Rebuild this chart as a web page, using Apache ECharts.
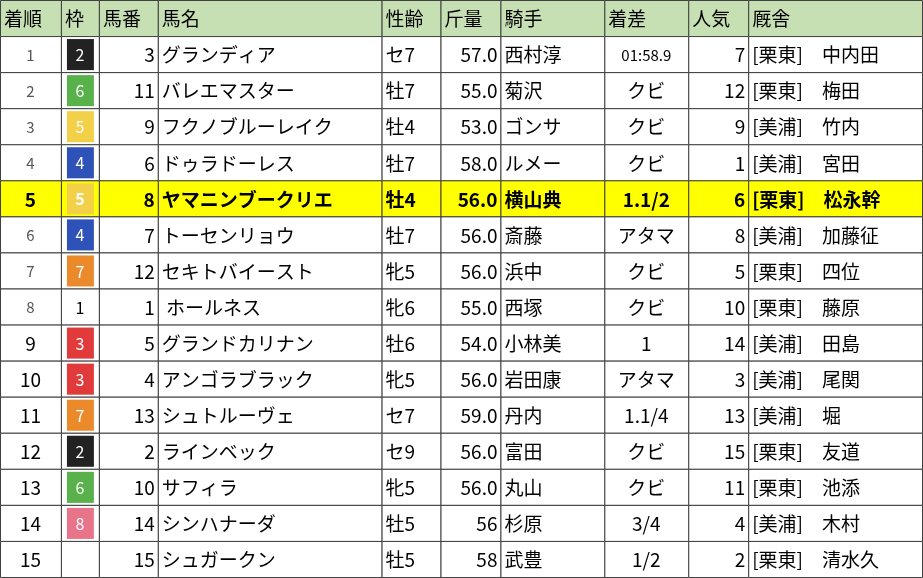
<!DOCTYPE html>
<html><head><meta charset="utf-8">
<script src="https://cdn.jsdelivr.net/npm/echarts@6/dist/echarts.min.js"></script>
<style>html,body{margin:0;padding:0;background:#fff}#c{width:923px;height:578px}</style>
</head><body><div id="c"></div>
<script>
const headers = ['着順','枠','馬番','馬名','性齢','斤量','騎手','着差','人気','厩舎'];
const ranks = [1,2,3,4,5,6,7,8,9,10,11,12,13,14,15];
const waku = [2,6,5,4,5,4,7,1,3,3,7,2,6,8,null];
const umaban = [3,11,9,6,8,7,12,1,5,4,13,2,10,14,15];
const names = ['グランディア','バレエマスター','フクノブルーレイク','ドゥラドーレス','ヤマニンブークリエ','トーセンリョウ','セキトバイースト',' ホールネス','グランドカリナン','アンゴラブラック','シュトルーヴェ','ラインベック','サフィラ','シンハナーダ','シュガークン'];
const sexAge = ['セ7','牡7','牡4','牡7','牡4','牡7','牝5','牝6','牡6','牝5','セ7','セ9','牝5','牡5','牡5'];
const weights = ['57.0','55.0','53.0','58.0','56.0','56.0','56.0','55.0','54.0','56.0','59.0','56.0','56.0','56','58'];
const jockeys = ['西村淳','菊沢','ゴンサ','ルメー','横山典','斎藤','浜中','西塚','小林美','岩田康','丹内','富田','丸山','杉原','武豊'];
const margins = ['01:58.9','クビ','クビ','クビ','1.1/2','アタマ','クビ','クビ','1','アタマ','1.1/4','クビ','クビ','3/4','1/2'];
const popularity = [7,12,9,1,6,8,5,10,14,3,13,15,11,4,2];
const stables = ['[栗東]　中内田','[栗東]　梅田','[美浦]　竹内','[美浦]　宮田','[栗東]　松永幹','[美浦]　加藤征','[栗東]　四位','[栗東]　藤原','[美浦]　田島','[美浦]　尾関','[美浦]　堀','[栗東]　友道','[栗東]　池添','[美浦]　木村','[栗東]　清水久'];
const highlightRow = 4;

const colEdges = [0,61,99,158,382,441,501,605,689,749,923];
const colAlign = ['center','center','right','left','left','right','left','center','right','left'];
const wakuColors = {1:'#ffffff',2:'#222222',3:'#e03a3a',4:'#2f52b8',5:'#f2d048',6:'#58b14a',7:'#ea8a2a',8:'#e8748a'};
const wakuText = {1:'#000',2:'#fff',3:'#fff',4:'#fff',5:'#fff',6:'#fff',7:'#fff',8:'#fff'};

const rowsLabels = ['h'].concat(ranks.map(String));
const table = [headers];
for (let i=0;i<ranks.length;i++) {
  table.push([String(ranks[i]), waku[i]==null?'':String(waku[i]), String(umaban[i]), names[i], sexAge[i], weights[i], jockeys[i], margins[i], String(popularity[i]), stables[i]]);
}
const data = [];
table.forEach((row,r)=>row.forEach((v,c)=>data.push([c,r])));

function renderItem(params, api) {
  const c = api.value(0), r = api.value(1);
  const p0 = api.coord([colEdges[c], r]);
  const p1 = api.coord([colEdges[c+1], r]);
  const h = api.size([0,1])[1];
  const x = p0[0], w = p1[0]-p0[0], y = p0[1]-h/2;
  const text = table[r][c];
  const isHead = r===0, isHi = r===highlightRow+1;
  let fill = isHead ? '#c6e0b4' : (isHi ? '#ffff00' : '#ffffff');
  const children = [{type:'rect',shape:{x:x+0.5,y:y+0.5,width:w,height:h},style:{fill:fill,stroke:'#404040',lineWidth:1}}];
  let color = '#000';
  if (!isHead && c===1 && text!=='') {
    const k = +text;
    children.push({type:'rect',shape:{x:x+6,y:y+3,width:w-11,height:h-5},style:{fill:wakuColors[k],stroke:null}});
    color = wakuText[k];
  }
  if (!isHead && c===0 && !isHi && r<=8) color = '#555';
  const align = isHead ? 'left' : colAlign[c];
  let tx = align==='left' ? x+4 : align==='right' ? x+w-3 : x+w/2;
  let fs = 19;
  if (!isHead && (c===0 || c===1) ) fs = (c===1?16:(r<=8&&!isHi?15:19));
  if (!isHead && c===7 && text.indexOf(':')>=0) fs = 15;
  children.push({type:'text',style:{x:tx,y:y+h/2+1,text:text,align:align,verticalAlign:'middle',fill:color,
    font:(isHi?'bold ':'')+fs+'px "Noto Sans CJK JP", sans-serif'}});
  return {type:'group',children:children};
}

const chart = echarts.init(document.getElementById('c'));
chart.setOption({
  animation:false,
  grid:{left:0,right:1,top:0,bottom:1},
  xAxis:{type:'value',min:0,max:923,show:false},
  yAxis:{type:'category',data:rowsLabels,inverse:true,show:false},
  series:[{type:'custom',renderItem:renderItem,data:data,clip:false}]
});
</script></body></html>
